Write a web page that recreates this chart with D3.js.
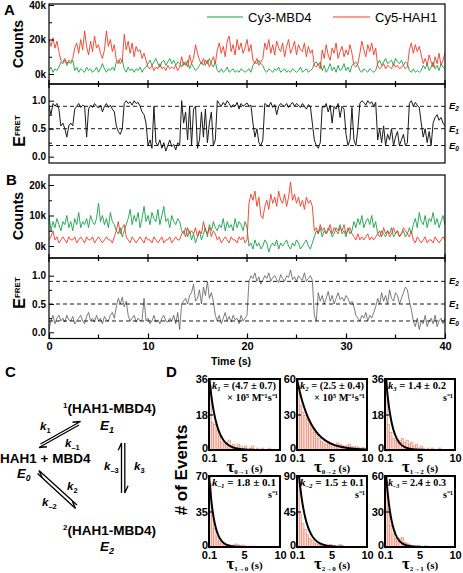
<!DOCTYPE html>
<html><head><meta charset="utf-8">
<script src="https://cdn.jsdelivr.net/npm/d3@7"></script>
<style>body{margin:0;background:#fff}svg{display:block}</style>
</head><body>
<svg id="c" width="463" height="573"></svg>
<script>
// ---------------- DATA ----------------
const tStep = 0.2; // s between samples
const timeLabels = [0,10,20,30,40];
const timeMinor = [5,15,25,35];
const efretLevels = [{name:"2", v:0.9},{name:"1", v:0.5},{name:"0", v:0.2}];

const greenA = [2,4,1,3,2,4, 7,6,8,5,7,6,8, 2,4,1,3,2,1,4,2,3,1,2,4,1,3, 6,3, 1,3,2,4,2, 7,8,6,8,
 3,1,4,2,3,1,3,2,4,1,3,4, 6,8,5,7,9,6,4,7,8,5,7,9,6,8,5,7,6, 4,7,5,8,3,6,4, 2,3,5, 7,5,8,6,9,6,4,7,
 2,1,3,1,2,4,1,2,3,1,2,1,3,2,1,2,3,1, 5,7,6,8,6,5,
 2,1,3,2,1,3,2,4,1,2,3,1,2,1,3,2,1,2,4,1,2,3,1,2,3, 6,7,5,7, 2,5,1,3,6,2,4,1,5,2,3,6,2,4,1,5, 6,7,5,
 2,1,3,2,1,3,2,1,2, 6,8,5,7,9,6,7,8,5,9,7,6,8,5,7,6, 2,1,3,1,2,1,2, 5,3,6,2,4,7,3,5,2,6,4,3];
const redA = [20,16,21,15,19,13, 8,7,9,6,8,7,9, 15,18,12,20,14,25,16,11,19,13,22,15,17,12, 9,14, 25,16,20,13,17, 8,6,9,7,
 23,14,19,12,18,10,16,13,14,9,12,8, 4,3,5,2,4,3,6,3,4,2,5,3,4,3,5,2,4, 10,5,7,4,11,6,9, 17,12,8, 6,9,5,8,4,7,10,6,
 14,18,12,16,10,19,22,13,17,11,20,14,18,12,15,20,13,17, 8,6,9,5,7,9,
 18,14,20,12,17,11,19,15,13,18,10,16,20,12,15,19,11,17,14,13,18,10,16,12,14, 5,4,6,3, 14,9,17,11,8,15,12,18,9,13,16,10,14,11,17,12, 5,4,6,
 12,19,14,10,17,13,18,11,15, 5,3,4,6,3,5,4,3,6,4,5,3,4,5,3,4, 14,18,12,17,13,16,11, 6,9,5,11,7,4,10,6,12,5,8,12];
const efretA = [.9,.75,.95,.9,.95,.85, .55,.6,.5,.35,.55,.6,.55, .85,.9,.95,.88,.92,.9,.35,.85,.92,.88,.95,.9,.87,.92, .8,.9, .95,.88,.92,.85,.8, .55,.45,.4,.5,
 .95,1.0,.95,.98,.92,1.0,.95,.97,.9,.8,.75,.6, .2,.3,.15,.9,.25,.2,.3,.15,.25,.1,.2,.3,.18,.22,.12,.25,.2, 1.0,.6,.8,.3,.9,.2,.85, .9,.15,.3, .8,.35,.85,.25,.6,.8,.2,.3,
 1.0,.95,.9,.97,.92,1.0,.95,.88,.93,.9,.97,.85,.95,.9,.93,.96,.9,.92, .6,.35,.5,.25,.2,.3,
 .95,.92,.9,.97,.88,.93,.75,.9,.95,.92,.9,.95,.88,.93,.97,.9,.95,.92,.88,.95,.9,.85,.93,.9,.6, .3,.2,.15,.25, .9,.88,.95,.8,.92,.6,.9,.85,.95,.7,.9,.85,.4,.2,.3,.88, .3,.2,.5,
 .95,1.0,.97,.92,1.0,.95,.98,.9,.97, .3,.5,.25,.55,.2,.4,.3,.5,.2,.35,.45,.2,.3,.4,.2,.25, .95,1.0,.9,.97,.92,.88,.6, .35,.5,.25,.45,.2,.6,.7,.75,.65,.7,.6,.55];

const greenB = [10,5,8,6,9,7,5,8,7,10,6,8,5,9,7,11,6,8,7,9,6,10,8,7,9,14,8,10,7,9,6,11,8,7, 5,4,6,3,5,7,
 9,12,7,10,8,11,6,9,13,8,10,7,11,9,8,12,7,10,13,8,9,6,10,8,7,9,8, 5,4,6,3,5, 2,4,1,3,5,2,4,6,3,7,5,8,6,
 5,7,6,9,5,8,6,7,5,9,6,8,7,5,8,6,
 0,1,-1,2,0,1,-1,0,2,1,-2,0,1,0,2,-1,1,0,1,2,0,-1,1,0,2,1,-1,0,1,2,0,-1,1,
 3,5,4,6,3,5,4,6,5,3,4,6,5,7,4,5,3,6,4,5, 8,6,9,7,10,6,8,9,7,10,6,8,
 4,3,5,4,3,5,4,6,3,4,5,3,4,5,3,4,6,4, 7,9,6,11,8,7,10,6,9,8,11,7,9,6,8,10,7];
const redB = [2,3,5,2,3,1,2,3,2,1,3,2,2,3,1,2,3,2,1,3,2,2,3,1,2,3,2,1,2,3,2,2,1,3, 5,8,4,6,7,3,
 2,1,3,2,1,2,3,2,1,3,2,2,1,3,2,1,2,3,1,2,2,3,1,2,3,2,2, 4,5,3,6,4, 5,4,6,3,5,4,8,5,4,6,3,5,4,
 2,3,1,2,3,2,1,3,2,2,1,3,2,3,1,2,
 14,17,15,18,13,16,10,9,13,15,12,17,14,16,13,18,15,14,17,13,16,21,15,17,14,16,13,15,12,16,14,15,13,
 5,6,4,7,5,6,4,5,7,4,6,5,4,6,5,7,4,5,6,4, 3,2,4,2,3,2,3,4,2,3,2,3,
 4,5,3,6,4,5,3,4,6,4,5,3,4,6,5,4,3,5, 2,1,3,2,1,2,3,1,2,2,1,3,2,1,2,3,2];
const efretB = [.05,.2,.3,.15,.25,.3,.2,.25,.18,.3,.22,.2,.28,.15,.2,.25,.3,.2,.15,.28,.35,.2,.25,.18,.3,.2,.25,.15,.28,.22,.2,.3,.35,.25, .45,.6,.5,.62,.45,.55,
 .3,.2,.25,.3,.18,.25,.2,.22,.6,.2,.25,.15,.2,.3,.18,.22,.15,.25,.3,.2,.18,.25,.2,.3,.15,.35,.05, .5,.55,.6,.5,.65, .7,.85,.55,.6,.75,.5,.8,.65,.9,.6,.7,.55,.3,
 .2,.3,.15,.25,.35,.2,.28,.18,.3,.22,.25,.15,.3,.2,.25,.3,
 .9,1.0,.95,1.05,.9,.98,.85,.92,1.0,.95,1.05,.9,.97,1.0,.93,.88,1.02,.95,.9,1.0,.97,1.1,.93,.98,.9,1.0,.95,.92,1.05,.9,.95,1.0,.92,
 .3,.2,.7,.55,.65,.5,.6,.72,.55,.65,.5,.6,.7,.58,.62,.55,.65,.6,.5,.55, .45,.3,.25,.2,.3,.25,.35,.2,.3,.25,.35,.45,
 .6,.5,.7,.55,.65,.5,.75,.6,.55,.7,.65,.5,.6,.7,.8,.75,.55,.4, .2,.1,.25,.05,.2,.15,.3,.1,.2,.25,.15,.3,.1,.2,.25,.15,.25];

// dwell-time histograms (bin width 0.33 s starting at 0.1 s)
const binWidth = 0.33;
const hist01 = [33,14,13,10,7,4,3,4,5,2,3,1,3,2,1,2,0,1,2,0,1,0,1,0,0,1,0,0,0,0];
const hist02 = [54,38,32,29,26,22,18,15,13,10,7,6,5,7,6,5,4,6,5,4,3,4,5,3,2,3,2,1,2,1];
const hist12 = [35,13,9,6,5,4,5,6,4,5,3,4,2,3,1,2,1,0,1,0,1,0,0,1,0,0,0,0,0,0];
const hist10 = [63,32,18,10,6,4,3,2,2,1,2,3,2,1,2,1,0,1,0,1,0,0,0,0,0,0,0,0,0,0];
const hist20 = [83,42,30,22,16,11,8,5,4,3,2,1,2,1,3,2,1,0,3,1,0,1,0,0,0,0,0,0,0,0];
const hist21 = [56,32,18,11,7,5,7,8,4,3,2,1,1,0,1,0,0,1,0,0,0,0,0,0,0,0,0,0,0,0];
const histYMax = [36,60,36,70,90,60];
const fitAmp = [38,60,43,72,120,75];
const fitRate = [1.0,0.5,1.2,1.4,1.0,1.3];
const histXTicks = [0.1,5,10];
const histSubs = ["0\u21921","0\u21922","1\u21922","1\u21920","2\u21920","2\u21921"];
const rateSub = ["1","2","3","\u20131","\u20132","\u20133"];
const rateVal = ["(4.7 \u00b1 0.7)","(2.5 \u00b1 0.4)","1.4 \u00b1 0.2","1.8 \u00b1 0.1","1.5 \u00b1 0.1","2.4 \u00b1 0.3"];
const rateUnit = ["\u00d7 10\u2075 M\u207b\u00b9s\u207b\u00b9","\u00d7 10\u2075 M\u207b\u00b9s\u207b\u00b9","s\u207b\u00b9","s\u207b\u00b9","s\u207b\u00b9","s\u207b\u00b9"];

// ---------------- DRAW ----------------
const SANS = "'Liberation Sans', Arial, Helvetica, sans-serif";
const SERIF = "'Liberation Serif', 'Times New Roman', serif";
const svg = d3.select('#c').style('font-family', SANS);
const defs = svg.append('defs');
let cpN = 0;
function clip(x,y,w,h){const id='cp'+(cpN++);defs.append('clipPath').attr('id',id).append('rect').attr('x',x).attr('y',y).attr('width',w).attr('height',h);return 'url(#'+id+')';}

function rich(g,x,y,parts,o){
  o=o||{};
  const t=g.append('text').attr('x',x).attr('y',y).attr('font-size',o.fs||10)
    .attr('font-weight',o.fw||'bold').attr('font-family',o.ff||SANS).attr('text-anchor',o.anchor||'start').attr('fill','#000');
  if(o.transform) t.attr('transform',o.transform);
  let shift=0;
  parts.forEach(p=>{
    const s=t.append('tspan').text(p.t);
    const target=p.dy||0;
    if(target!==shift){s.attr('dy',target-shift);shift=target;}
    if(p.fs) s.attr('font-size',p.fs);
    if(p.i) s.attr('font-style','italic');
  });
  return t;
}

const X0=49, X1=445;
const xT=d3.scaleLinear().domain([0,40]).range([X0,X1]);

function tracePanel(top,bottom,yDom,yRng,series,majors,minors,labels){
  const y=d3.scaleLinear().domain(yDom).range(yRng);
  const g=svg.append('g');
  const cp=clip(X0,top,X1-X0,bottom-top);
  series.forEach(s=>{
    g.append('path').attr('d',d3.line().x((d,i)=>xT(i*tStep)).y(d=>y(d))(s.data))
      .attr('fill','none').attr('stroke',s.color).attr('stroke-width',s.w).attr('stroke-linejoin','round').attr('clip-path',cp);
  });
  const ax=g.append('g').attr('transform',`translate(${X0},0)`)
    .call(d3.axisLeft(y).tickValues(majors).tickSize(-5).tickPadding(3).tickFormat((d,i)=>labels[i]));
  ax.select('.domain').remove();
  ax.selectAll('text').attr('font-size',10).attr('font-weight','bold').attr('font-family',SANS).attr('fill','#000');
  ax.selectAll('line').attr('stroke','#000').attr('stroke-width',1);
  const mx=g.append('g').attr('transform',`translate(${X0},0)`)
    .call(d3.axisLeft(y).tickValues(minors).tickSize(-3).tickFormat(''));
  mx.select('.domain').remove();
  mx.selectAll('line').attr('stroke','#000');
  g.append('rect').attr('x',X0).attr('y',top).attr('width',X1-X0).attr('height',bottom-top)
    .attr('fill','none').attr('stroke','#000').attr('stroke-width',1.2);
  return y;
}

function crossTicks(yy){
  const all=timeLabels.concat(timeMinor);
  svg.append('g').selectAll('line').data(all).join('line')
    .attr('x1',d=>xT(d)).attr('x2',d=>xT(d))
    .attr('y1',d=>yy-(timeLabels.includes(d)?4:3)).attr('y2',d=>yy+(timeLabels.includes(d)?4:3))
    .attr('stroke','#000').attr('stroke-width',1.2);
}
function efretDash(y){
  const g=svg.append('g');
  efretLevels.forEach(l=>{
    g.append('line').attr('x1',X0).attr('x2',X1).attr('y1',y(l.v)).attr('y2',y(l.v))
      .attr('stroke','#000').attr('stroke-width',0.9).attr('stroke-dasharray','4,3');
    rich(g,449,y(l.v)+3,[{t:'E',i:true},{t:l.name,fs:6.5,dy:2,i:true}],{fs:9.5});
  });
}

const GREEN='#16a04a', RED='#ef3a26';
// Panel A
tracePanel(4,84,[0,40],[74,5],[{data:greenA,color:GREEN,w:0.9},{data:redA,color:RED,w:0.9}],[0,20,40],[10,30],['0k','20k','40k']);
const yEA=tracePanel(84,163,[0,1],[156.7,100.7],[{data:efretA,color:'#1a1a1a',w:1}],[0,0.5,1],[0.25,0.75],['0.0','0.5','1.0']);
efretDash(yEA);
crossTicks(84);
// Panel B
tracePanel(175,258,[0,20],[246,185],[{data:greenB,color:GREEN,w:0.9},{data:redB,color:RED,w:0.9}],[0,10,20],[5,15],['0k','10k','20k']);
const yEB=tracePanel(258,338.5,[0,1],[332.3,275.7],[{data:efretB,color:'#5a5a5a',w:0.8}],[0,0.5,1],[0.25,0.75],['0.0','0.5','1.0']);
efretDash(yEB);
crossTicks(258);
// bottom time axis
const bx=svg.append('g').attr('transform','translate(0,338.5)')
  .call(d3.axisBottom(xT).tickValues(timeLabels).tickSize(-5).tickPadding(4).tickFormat(d3.format('d')));
bx.select('.domain').remove();
bx.selectAll('text').attr('font-size',11).attr('font-weight','bold').attr('font-family',SANS).attr('fill','#000');
bx.selectAll('line').attr('stroke','#000').attr('stroke-width',1.2);
svg.append('g').selectAll('line').data(timeMinor).join('line')
  .attr('x1',d=>xT(d)).attr('x2',d=>xT(d)).attr('y1',338.5).attr('y2',334.5).attr('stroke','#000').attr('stroke-width',1.2);
svg.append('text').attr('x',231).attr('y',365).attr('text-anchor','middle').attr('font-size',10.5).attr('font-weight','bold').text('Time (s)');

// Legend
svg.append('line').attr('x1',207).attr('x2',243).attr('y1',17).attr('y2',17).attr('stroke',GREEN).attr('stroke-width',1);
svg.append('text').attr('x',248).attr('y',21.5).attr('font-size',13).text('Cy3-MBD4');
svg.append('line').attr('x1',333).attr('x2',370).attr('y1',17).attr('y2',17).attr('stroke',RED).attr('stroke-width',1);
svg.append('text').attr('x',375).attr('y',21.5).attr('font-size',13).text('Cy5-HAH1');

// y titles
function ytitle(cx,cy,txt){svg.append('text').attr('transform',`translate(${cx},${cy}) rotate(-90)`).attr('text-anchor','middle')
  .attr('font-size',14).attr('font-weight','bold').text(txt);}
ytitle(23,44,'Counts'); ytitle(23,216,'Counts');
rich(svg,0,0,[{t:'E',fs:16},{t:'FRET',fs:8,dy:-5}],{anchor:'middle',transform:'translate(25,131) rotate(-90)'});
rich(svg,0,0,[{t:'E',fs:16},{t:'FRET',fs:8,dy:-5}],{anchor:'middle',transform:'translate(25,293) rotate(-90)'});

// panel letters
[['A',4,15],['B',6,185],['C',5,377],['D',166,377]].forEach(p=>{
  svg.append('text').attr('x',p[1]).attr('y',p[2]).attr('font-size',15).attr('font-weight','bold').text(p[0]);
});

// ---------------- Panel C scheme ----------------
const C=svg.append('g');
const FS=13.5;
rich(C,63,413,[{t:'1',fs:8,dy:-5},{t:'(HAH1-MBD4)'}],{fs:FS});
rich(C,100,430,[{t:'E',i:true},{t:'1',fs:9,dy:3,i:true}],{fs:FS});
rich(C,0,462.5,[{t:'HAH1 + MBD4'}],{fs:FS});
rich(C,17,478,[{t:'E',i:true},{t:'0',fs:8.5,dy:3,i:true}],{fs:13});
rich(C,63,535,[{t:'2',fs:8,dy:-5},{t:'(HAH1-MBD4)'}],{fs:FS});
rich(C,100,551,[{t:'E',i:true},{t:'2',fs:9,dy:3,i:true}],{fs:FS});
rich(C,40,430,[{t:'k',i:true},{t:'1',fs:7.5,dy:2.5}],{fs:11.5});
rich(C,65,447,[{t:'k',i:true},{t:'\u20131',fs:7.5,dy:2.5}],{fs:11.5});
rich(C,67,490,[{t:'k',i:true},{t:'2',fs:7.5,dy:2.5}],{fs:11.5});
rich(C,42,506,[{t:'k',i:true},{t:'\u20132',fs:7.5,dy:2.5}],{fs:11.5});
rich(C,104,470,[{t:'k',i:true},{t:'\u20133',fs:7.5,dy:2.5}],{fs:11.5});
rich(C,134,470,[{t:'k',i:true},{t:'3',fs:7.5,dy:2.5}],{fs:11.5});

function harpoon(x1,y1,x2,y2,side){
  const a=Math.atan2(y2-y1,x2-x1), L=8, ang=side*0.42;
  const bx=x2-L*Math.cos(a+ang), by=y2-L*Math.sin(a+ang);
  C.append('path').attr('d',`M${x1},${y1}L${x2},${y2}L${bx},${by}`).attr('fill','none')
    .attr('stroke','#000').attr('stroke-width',1.3).attr('stroke-linejoin','miter');
}
harpoon(40.5,444,80.5,421.5,1);
harpoon(79,425,39,447.5,1);
harpoon(77,505,39,470.5,1);
harpoon(37.5,473.5,75.5,508.5,1);
harpoon(121.5,493,121.5,443,1);
harpoon(124.8,443,124.8,493,1);

// ---------------- Panel D histograms ----------------
const hists=[hist01,hist02,hist12,hist10,hist20,hist21];
const cols=[[209,280],[297,367],[385,455]];
const rows=[[379,450],[476,547]];
const D=svg.append('g');
rich(D,0,0,[{t:'# of Events'}],{fs:17,anchor:'middle',transform:'translate(187,470) rotate(-90)'});
hists.forEach((h,k)=>{
  const [xa,xb]=cols[k%3], [ya,yb]=rows[Math.floor(k/3)];
  const xs=d3.scaleLinear().domain([0.1,10]).range([xa,xb]);
  const ys=d3.scaleLinear().domain([0,histYMax[k]]).range([yb,ya]);
  const cp=clip(xa,ya,xb-xa,yb-ya);
  const g=D.append('g');
  g.append('g').attr('clip-path',cp).selectAll('rect').data(h).join('rect')
    .attr('x',(d,i)=>xs(0.1+i*binWidth)).attr('width',(d,i)=>xs(0.1+(i+1)*binWidth)-xs(0.1+i*binWidth))
    .attr('y',d=>ys(d)).attr('height',d=>yb-ys(d))
    .attr('fill','#fadbd2').attr('stroke','#e97561').attr('stroke-width',0.5);
  const ts=d3.range(0.1,10.01,0.05);
  g.append('path').attr('clip-path',cp)
    .attr('d',d3.line().x(t=>xs(t)).y(t=>ys(fitAmp[k]*Math.exp(-fitRate[k]*(t-0.1))))(ts))
    .attr('fill','none').attr('stroke','#000').attr('stroke-width',2);
  // axes
  const yt=[0,histYMax[k]/2,histYMax[k]];
  const ay=g.append('g').attr('transform',`translate(${xa},0)`).call(d3.axisLeft(ys).tickValues(yt).tickSize(-4).tickPadding(1).tickFormat(d3.format('d')));
  ay.select('.domain').remove();
  ay.selectAll('text').attr('font-size',11).attr('font-weight','bold').attr('font-family',SANS).attr('fill','#000')
    .attr('dy',(d)=>d===0?'0.1em':'0.32em');
  ay.selectAll('line').attr('stroke','#000').attr('stroke-width',1.2);
  const axb=g.append('g').attr('transform',`translate(0,${yb})`).call(d3.axisBottom(xs).tickValues(histXTicks).tickSize(0).tickPadding(3).tickFormat(d=>d===0.1?'0.1':d3.format('d')(d)));
  axb.select('.domain').remove();
  axb.selectAll('text').attr('font-size',11).attr('font-weight','bold').attr('font-family',SANS).attr('fill','#000').attr('dy','0.85em');
  g.append('rect').attr('x',xa).attr('y',ya).attr('width',xb-xa).attr('height',yb-ya).attr('fill','none').attr('stroke','#000').attr('stroke-width',2);
  // tau label
  rich(g,(xa+xb)/2,yb+22,[{t:'\u03c4',fs:17},{t:histSubs[k],fs:7,dy:2},{t:' (s)',fs:11}],{ff:SERIF,anchor:'middle',fs:11});
  // rate annotation
  const w1=(k%3===2)?58:64;
  rich(g,xa+3,ya+10,[{t:'k',i:true},{t:rateSub[k],fs:6.5,dy:2,i:true},{t:' = '+rateVal[k]}],{ff:SERIF,fs:10.5})
    .attr('textLength',w1).attr('lengthAdjust','spacingAndGlyphs');
  const t2=rich(g,xb-2,ya+22,[{t:rateUnit[k]}],{ff:SERIF,fs:10,anchor:'end'});
  if(k<2) t2.attr('textLength',51).attr('lengthAdjust','spacingAndGlyphs');
});
</script>
</body></html>
